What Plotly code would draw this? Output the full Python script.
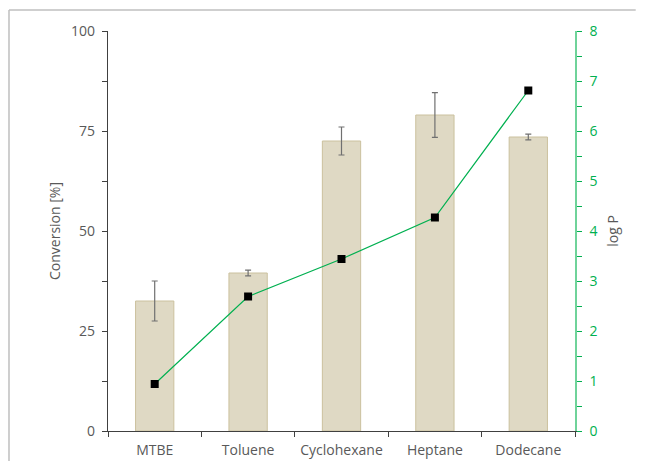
import plotly.graph_objects as go

solvents = ["MTBE", "Toluene", "Cyclohexane", "Heptane", "Dodecane"]
conversion = [32.5, 39.5, 72.5, 79.0, 73.5]
conversion_err = [5.0, 0.7, 3.5, 5.6, 0.7]
log_p = [0.94, 2.69, 3.44, 4.27, 6.81]

GRAY = "#595959"
GREEN = "#00B050"
FONT = "Open Sans"

fig = go.Figure()
fig.add_trace(go.Bar(
    x=solvents, y=conversion, width=0.41,
    marker=dict(color="#DFD9C4", line=dict(color="#CBC19E", width=1)),
    error_y=dict(type="data", array=conversion_err, color="#707070", thickness=1.2, width=3),
    yaxis="y", showlegend=False,
))
fig.add_trace(go.Scatter(
    x=solvents, y=log_p, mode="lines+markers",
    line=dict(color=GREEN, width=1.2),
    marker=dict(symbol="square", size=8, color="black"),
    yaxis="y2", showlegend=False,
))

fig.update_layout(
    width=631, height=453,
    margin=dict(l=100, r=64, t=23, b=30),
    paper_bgcolor="white", plot_bgcolor="white",
    font=dict(family=FONT, size=14, color=GRAY),
    xaxis=dict(
        type="category", showgrid=False, showline=True, linecolor="#404040", linewidth=1.2,
        ticks="outside", tickson="boundaries", ticklen=5, tickcolor="#404040",
        tickfont=dict(size=14, color=GRAY), ticklabelstandoff=6, automargin=False,
    ),
    yaxis=dict(
        range=[0, 100], tickvals=[0, 25, 50, 75, 100], showgrid=False, zeroline=False,
        showline=True, linecolor="#404040", linewidth=1.2,
        ticks="outside", ticklen=5, tickcolor="#404040",
        minor=dict(ticks="outside", ticklen=5, dtick=12.5, tickcolor="#404040", showgrid=False),
        title=dict(text="Conversion [%]", font=dict(size=14, color=GRAY), standoff=7),
        tickfont=dict(size=14, color=GRAY), ticklabelstandoff=4, automargin=False,
    ),
    yaxis2=dict(
        range=[0, 8], dtick=1, overlaying="y", side="right", showgrid=False, zeroline=False,
        showline=True, linecolor="#6FD39A", linewidth=1.5,
        ticks="outside", ticklen=5, tickcolor=GREEN,
        minor=dict(ticks="outside", ticklen=5, dtick=0.5, tickcolor=GREEN, showgrid=False),
        title=dict(text="log P", font=dict(size=14, color=GRAY), standoff=12),
        tickfont=dict(size=14, color=GREEN), ticklabelstandoff=5, automargin=False,
    ),
    bargap=0.59,
    shapes=[
        dict(type="line", xref="paper", yref="paper", x0=-0.212, x1=1.13, y0=1.0525, y1=1.0525,
             line=dict(color="#BFBFBF", width=1.5)),
        dict(type="line", xref="paper", yref="paper", x0=-0.212, x1=-0.212, y0=1.0525, y1=-0.1,
             line=dict(color="#BFBFBF", width=1.5)),
    ],
)

fig.write_html("out.html")
